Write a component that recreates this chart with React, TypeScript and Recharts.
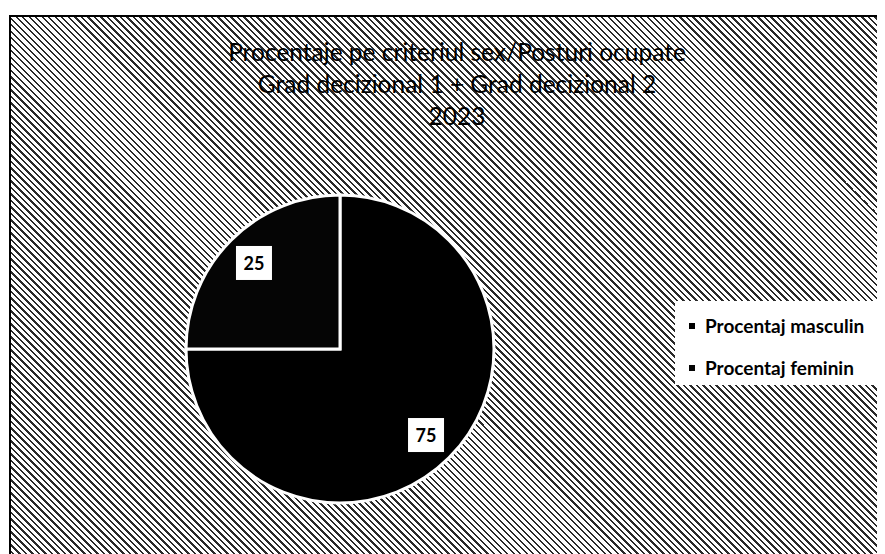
import { PieChart, Pie, Cell, Legend } from 'recharts';

const categories = ['Procentaj masculin', 'Procentaj feminin'];
const values = [75, 25];
const colors = ['#000000', '#050505'];

const titleLines = [
  'Procentaje pe criteriul sex/Posturi ocupate',
  'Grad decizional 1 + Grad decizional 2',
  '2023',
];

const data = categories.map((name, i) => ({ name, value: values[i] }));

const RADIAN = Math.PI / 180;

const renderLabel = (props: any) => {
  const { cx, cy, midAngle, outerRadius, value } = props;
  const r = outerRadius * 0.79;
  const x = cx + r * Math.cos(-midAngle * RADIAN);
  const y = cy + r * Math.sin(-midAngle * RADIAN);
  return (
    <g>
      <rect x={x - 18} y={y - 17} width={36} height={34} fill="#fff" />
      <text
        x={x}
        y={y}
        textAnchor="middle"
        dominantBaseline="central"
        fontFamily="Lato, 'Open Sans', sans-serif"
        fontWeight={700}
        fontSize={18}
        fill="#000"
      >
        {value}
      </text>
    </g>
  );
};

const renderLegend = () => (
  <div
    style={{
      background: '#fff',
      width: 216,
      height: 84,
      boxSizing: 'border-box',
      paddingLeft: 14,
      paddingTop: 8,
      fontFamily: "Lato, 'Open Sans', sans-serif",
      fontWeight: 700,
      fontSize: 19,
      color: '#000',
      whiteSpace: 'nowrap',
    }}
  >
    {categories.map((c, i) => (
      <div
        key={c}
        style={{ display: 'flex', alignItems: 'center', height: 33, marginBottom: i === 0 ? 9 : 0 }}
      >
        <span
          style={{ display: 'inline-block', width: 6, height: 6, background: colors[i], marginRight: 10 }}
        />
        {c}
      </div>
    ))}
  </div>
);

export default function App() {
  return (
    <div
      style={{
        position: 'relative',
        marginTop: 7,
        marginLeft: 1,
        width: 880,
        height: 540,
        borderLeft: '2px solid #000',
        borderTop: '2px solid #000',
        backgroundColor: '#fff',
        backgroundImage:
          'repeating-linear-gradient(45deg, #fff 0px, #fff 2.9px, #2a2a2a 2.9px, #2a2a2a 4.6px)',
        overflow: 'hidden',
      }}
    >
      <div
        style={{
          position: 'absolute',
          left: 0,
          top: 19,
          width: 892,
          textAlign: 'center',
          fontFamily: "Lato, 'Open Sans', sans-serif",
          fontSize: 24.5,
          lineHeight: '32px',
          color: '#000',
        }}
      >
        {titleLines.map((t) => (
          <div key={t}>{t}</div>
        ))}
      </div>
      <PieChart width={880} height={540} style={{ position: 'absolute', left: 0, top: 0 }}>
        <Pie
          data={data}
          dataKey="value"
          nameKey="name"
          cx={324}
          cy={327}
          outerRadius={154}
          startAngle={90}
          endAngle={-270}
          stroke="#fff"
          strokeWidth={3}
          label={renderLabel}
          labelLine={false}
          isAnimationActive={false}
        >
          {data.map((d, i) => (
            <Cell key={d.name} fill={colors[i]} />
          ))}
        </Pie>
        <Legend
          layout="vertical"
          align="right"
          verticalAlign="top"
          content={renderLegend}
          wrapperStyle={{ right: 0, top: 284, width: 216 }}
        />
      </PieChart>
    </div>
  );
}
